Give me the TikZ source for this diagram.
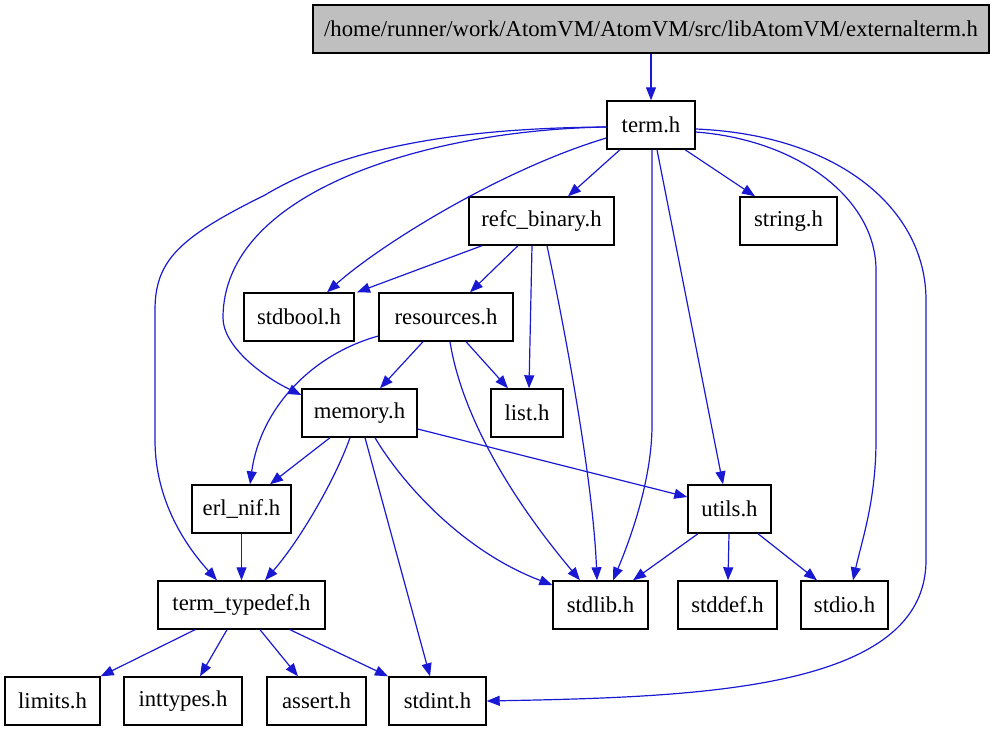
\documentclass[tikz,border=0pt]{standalone}
\usepackage{fontspec}
\setmainfont{Liberation Serif}
\usetikzlibrary{arrows.meta}
\definecolor{edgeblue}{RGB}{25,25,212}
\definecolor{extgray}{RGB}{191,191,191}
\tikzset{
  filebox/.style={draw=black, line width=1.4pt, fill=white, minimum height=48pt, inner sep=0pt,
    font=\fontsize{22.7}{27}\selectfont, text=black},
  dep/.style={draw=edgeblue, line width=1.2pt, -{Triangle[length=13pt,width=10pt]}},
}
\begin{document}
\begin{tikzpicture}[x=1pt,y=-1pt]
\useasboundingbox (0,0) rectangle (995,731);
% nodes
\node[filebox, fill=extgray, minimum width=676pt] (ext) at (651,29) {/home/runner/work/AtomVM/AtomVM/src/libAtomVM/externalterm.h};
\node[filebox, minimum width=88pt] (term) at (651,125) {term.h};
\node[filebox, minimum width=145pt] (refc) at (541.5,221) {refc\_binary.h};
\node[filebox, minimum width=97pt] (string) at (788.5,221) {string.h};
\node[filebox, minimum width=110pt] (stdbool) at (299,317) {stdbool.h};
\node[filebox, minimum width=134pt] (resources) at (446,317) {resources.h};
\node[filebox, minimum width=115pt] (memory) at (359.5,413) {memory.h};
\node[filebox, minimum width=72pt] (list) at (527,413) {list.h};
\node[filebox, minimum width=99pt] (erlnif) at (241.5,509) {erl\_nif.h};
\node[filebox, minimum width=83pt] (utils) at (729.5,509) {utils.h};
\node[filebox, minimum width=167pt] (tt) at (241.5,605) {term\_typedef.h};
\node[filebox, minimum width=95pt] (stdlib) at (600.5,605) {stdlib.h};
\node[filebox, minimum width=99pt] (stddef) at (727.5,605) {stddef.h};
\node[filebox, minimum width=87pt] (stdio) at (844.5,605) {stdio.h};
\node[filebox, minimum width=95pt] (limits) at (52.5,701) {limits.h};
\node[filebox, minimum width=118pt] (inttypes) at (183,701) {inttypes.h};
\node[filebox, minimum width=99pt] (assert) at (316.5,701) {assert.h};
\node[filebox, minimum width=97pt] (stdint) at (437.5,701) {stdint.h};
% edges
\draw[dep] (ext.south) -- (term.north);
\draw[dep] (620,0 |- term.south) -- (568,0 |- refc.north);
\draw[dep] (685,0 |- term.south) -- (755,0 |- string.north);
\draw[dep] (term.west |- 0,138) .. controls (500,170) and (380,245) .. (327,0 |- stdbool.north);
\draw[dep] (term.west |- 0,127) .. controls (430,130) and (223,190) .. (223,318)
  .. controls (223,345) and (260,375) .. (memory.west |- 0,395);
\draw[dep] (term.west |- 0,127) .. controls (450,128) and (340,150) .. (265,195)
  .. controls (180,237) and (155,260) .. (155,310) -- (155,440)
  .. controls (155,500) and (185,545) .. (217,0 |- tt.north);
\draw[dep] (652,0 |- term.south) -- (652,425) .. controls (652,480) and (630,540) .. (613,0 |- stdlib.north);
\draw[dep] (657,0 |- term.south) -- (723,0 |- utils.north);
\draw[dep] (term.east |- 0,132) .. controls (800,140) and (876,200) .. (876,270) -- (876,440)
  .. controls (876,500) and (862,540) .. (853,0 |- stdio.north);
\draw[dep] (term.east |- 0,129) .. controls (840,135) and (926,210) .. (926,300) -- (926,560)
  .. controls (926,690) and (700,697) .. (stdint.east);
\draw[dep] (482,0 |- refc.south) -- (357,0 |- stdbool.north);
\draw[dep] (518,0 |- refc.south) -- (470,0 |- resources.north);
\draw[dep] (532,0 |- refc.south) -- (529,0 |- list.north);
\draw[dep] (547,0 |- refc.south) .. controls (565,330) and (593,480) .. (597,0 |- stdlib.north);
\draw[dep] (423,0 |- resources.south) -- (380,0 |- memory.north);
\draw[dep] (466,0 |- resources.south) -- (508,0 |- list.north);
\draw[dep] (450,0 |- resources.south) .. controls (460,405) and (500,485) .. (580,0 |- stdlib.north);
\draw[dep] (resources.west |- 0,336) .. controls (310,355) and (260,410) .. (250,0 |- erlnif.north);
\draw[dep] (330,0 |- memory.south) -- (270,0 |- erlnif.north);
\draw[dep] (350,0 |- memory.south) .. controls (335,480) and (300,540) .. (265,0 |- tt.north);
\draw[dep] (365,0 |- memory.south) -- (430,0 |- stdint.north);
\draw[dep] (375,0 |- memory.south) .. controls (400,480) and (460,550) .. (stdlib.west |- 0,585);
\draw[dep] (memory.east |- 0,429) -- (utils.west |- 0,497);
\draw[dep] (erlnif.south) -- (tt.north);
\draw[dep] (698,0 |- utils.south) -- (633,0 |- stdlib.north);
\draw[dep] (729,0 |- utils.south) -- (728,0 |- stddef.north);
\draw[dep] (758,0 |- utils.south) -- (817,0 |- stdio.north);
\draw[dep] (195,0 |- tt.south) -- (limits.north east);
\draw[dep] (227,0 |- tt.south) -- (200,0 |- inttypes.north);
\draw[dep] (260,0 |- tt.south) -- (298,0 |- assert.north);
\draw[dep] (290,0 |- tt.south) -- (388,0 |- stdint.north);
\end{tikzpicture}
\end{document}
